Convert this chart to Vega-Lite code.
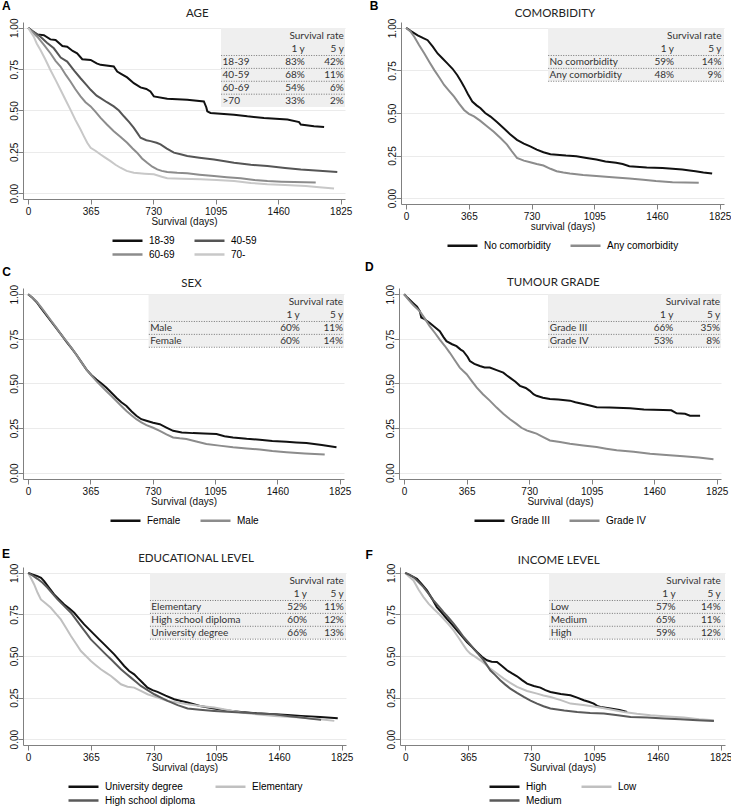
{
"$schema": "https://vega.github.io/schema/vega-lite/v6.json",
"padding": {"left": 2, "top": 0, "right": 0, "bottom": 0},
"background": "white",
"datasets": {
"A": [
{"group":"18-39","day":0,"surv":1},{"group":"18-39","day":30,"surv":0.975},{"group":"18-39","day":53,"surv":0.96},{"group":"18-39","day":92,"surv":0.955},{"group":"18-39","day":130,"surv":0.93},{"group":"18-39","day":160,"surv":0.926},{"group":"18-39","day":200,"surv":0.89},{"group":"18-39","day":228,"surv":0.886},{"group":"18-39","day":260,"surv":0.86},{"group":"18-39","day":286,"surv":0.846},{"group":"18-39","day":316,"surv":0.81},{"group":"18-39","day":365,"surv":0.806},{"group":"18-39","day":400,"surv":0.785},{"group":"18-39","day":423,"surv":0.776},{"group":"18-39","day":500,"surv":0.766},{"group":"18-39","day":520,"surv":0.735},{"group":"18-39","day":545,"surv":0.72},{"group":"18-39","day":578,"surv":0.7},{"group":"18-39","day":617,"surv":0.665},{"group":"18-39","day":656,"surv":0.64},{"group":"18-39","day":690,"surv":0.63},{"group":"18-39","day":714,"surv":0.615},{"group":"18-39","day":734,"surv":0.585},{"group":"18-39","day":812,"surv":0.571},{"group":"18-39","day":929,"surv":0.565},{"group":"18-39","day":1026,"surv":0.555},{"group":"18-39","day":1040,"surv":0.52},{"group":"18-39","day":1046,"surv":0.495},{"group":"18-39","day":1065,"surv":0.485},{"group":"18-39","day":1202,"surv":0.475},{"group":"18-39","day":1280,"surv":0.465},{"group":"18-39","day":1377,"surv":0.455},{"group":"18-39","day":1514,"surv":0.445},{"group":"18-39","day":1582,"surv":0.43},{"group":"18-39","day":1592,"surv":0.415},{"group":"18-39","day":1669,"surv":0.405},{"group":"18-39","day":1728,"surv":0.4},
{"group":"40-59","day":0,"surv":1},{"group":"40-59","day":40,"surv":0.97},{"group":"40-59","day":72,"surv":0.946},{"group":"40-59","day":110,"surv":0.91},{"group":"40-59","day":150,"surv":0.876},{"group":"40-59","day":190,"surv":0.82},{"group":"40-59","day":228,"surv":0.796},{"group":"40-59","day":270,"surv":0.74},{"group":"40-59","day":306,"surv":0.695},{"group":"40-59","day":340,"surv":0.655},{"group":"40-59","day":365,"surv":0.625},{"group":"40-59","day":400,"surv":0.59},{"group":"40-59","day":423,"surv":0.575},{"group":"40-59","day":460,"surv":0.55},{"group":"40-59","day":500,"surv":0.525},{"group":"40-59","day":530,"surv":0.5},{"group":"40-59","day":559,"surv":0.465},{"group":"40-59","day":590,"surv":0.43},{"group":"40-59","day":617,"surv":0.395},{"group":"40-59","day":640,"surv":0.36},{"group":"40-59","day":656,"surv":0.335},{"group":"40-59","day":690,"surv":0.32},{"group":"40-59","day":715,"surv":0.315},{"group":"40-59","day":750,"surv":0.305},{"group":"40-59","day":773,"surv":0.295},{"group":"40-59","day":810,"surv":0.27},{"group":"40-59","day":851,"surv":0.245},{"group":"40-59","day":890,"surv":0.235},{"group":"40-59","day":929,"surv":0.225},{"group":"40-59","day":1000,"surv":0.215},{"group":"40-59","day":1085,"surv":0.204},{"group":"40-59","day":1140,"surv":0.195},{"group":"40-59","day":1202,"surv":0.184},{"group":"40-59","day":1300,"surv":0.172},{"group":"40-59","day":1397,"surv":0.164},{"group":"40-59","day":1500,"surv":0.153},{"group":"40-59","day":1592,"surv":0.144},{"group":"40-59","day":1700,"surv":0.136},{"group":"40-59","day":1805,"surv":0.128},
{"group":"60-69","day":0,"surv":1},{"group":"60-69","day":25,"surv":0.975},{"group":"60-69","day":53,"surv":0.946},{"group":"60-69","day":90,"surv":0.9},{"group":"60-69","day":130,"surv":0.846},{"group":"60-69","day":160,"surv":0.8},{"group":"60-69","day":189,"surv":0.766},{"group":"60-69","day":220,"surv":0.715},{"group":"60-69","day":247,"surv":0.675},{"group":"60-69","day":275,"surv":0.63},{"group":"60-69","day":306,"surv":0.585},{"group":"60-69","day":335,"surv":0.55},{"group":"60-69","day":365,"surv":0.525},{"group":"60-69","day":395,"surv":0.49},{"group":"60-69","day":423,"surv":0.455},{"group":"60-69","day":460,"surv":0.415},{"group":"60-69","day":500,"surv":0.375},{"group":"60-69","day":540,"surv":0.34},{"group":"60-69","day":578,"surv":0.305},{"group":"60-69","day":610,"surv":0.27},{"group":"60-69","day":636,"surv":0.245},{"group":"60-69","day":665,"surv":0.21},{"group":"60-69","day":695,"surv":0.184},{"group":"60-69","day":725,"surv":0.16},{"group":"60-69","day":754,"surv":0.144},{"group":"60-69","day":780,"surv":0.135},{"group":"60-69","day":812,"surv":0.128},{"group":"60-69","day":870,"surv":0.123},{"group":"60-69","day":929,"surv":0.12},{"group":"60-69","day":1000,"surv":0.112},{"group":"60-69","day":1085,"surv":0.104},{"group":"60-69","day":1160,"surv":0.097},{"group":"60-69","day":1241,"surv":0.09},{"group":"60-69","day":1320,"surv":0.08},{"group":"60-69","day":1397,"surv":0.074},{"group":"60-69","day":1480,"surv":0.07},{"group":"60-69","day":1553,"surv":0.068},{"group":"60-69","day":1679,"surv":0.064},
{"group":"70-","day":0,"surv":1},{"group":"70-","day":15,"surv":0.975},{"group":"70-","day":33,"surv":0.946},{"group":"70-","day":50,"surv":0.905},{"group":"70-","day":72,"surv":0.866},{"group":"70-","day":100,"surv":0.81},{"group":"70-","day":130,"surv":0.745},{"group":"70-","day":160,"surv":0.685},{"group":"70-","day":189,"surv":0.625},{"group":"70-","day":218,"surv":0.565},{"group":"70-","day":247,"surv":0.505},{"group":"70-","day":275,"surv":0.445},{"group":"70-","day":306,"surv":0.385},{"group":"70-","day":325,"surv":0.345},{"group":"70-","day":345,"surv":0.305},{"group":"70-","day":365,"surv":0.275},{"group":"70-","day":395,"surv":0.255},{"group":"70-","day":423,"surv":0.234},{"group":"70-","day":450,"surv":0.215},{"group":"70-","day":481,"surv":0.194},{"group":"70-","day":510,"surv":0.172},{"group":"70-","day":539,"surv":0.154},{"group":"70-","day":575,"surv":0.135},{"group":"70-","day":617,"surv":0.124},{"group":"70-","day":680,"surv":0.118},{"group":"70-","day":734,"surv":0.114},{"group":"70-","day":780,"surv":0.1},{"group":"70-","day":812,"surv":0.09},{"group":"70-","day":900,"surv":0.087},{"group":"70-","day":1007,"surv":0.084},{"group":"70-","day":1100,"surv":0.08},{"group":"70-","day":1202,"surv":0.074},{"group":"70-","day":1300,"surv":0.062},{"group":"70-","day":1397,"surv":0.054},{"group":"70-","day":1500,"surv":0.05},{"group":"70-","day":1621,"surv":0.044},{"group":"70-","day":1700,"surv":0.036},{"group":"70-","day":1786,"surv":0.028}
],
"B": [
{"group":"No comorbidity","day":0,"surv":1},{"group":"No comorbidity","day":30,"surv":0.98},{"group":"No comorbidity","day":67,"surv":0.957},{"group":"No comorbidity","day":100,"surv":0.94},{"group":"No comorbidity","day":125,"surv":0.928},{"group":"No comorbidity","day":155,"surv":0.89},{"group":"No comorbidity","day":183,"surv":0.85},{"group":"No comorbidity","day":212,"surv":0.82},{"group":"No comorbidity","day":241,"surv":0.79},{"group":"No comorbidity","day":270,"surv":0.76},{"group":"No comorbidity","day":298,"surv":0.722},{"group":"No comorbidity","day":320,"surv":0.685},{"group":"No comorbidity","day":337,"surv":0.655},{"group":"No comorbidity","day":360,"surv":0.61},{"group":"No comorbidity","day":385,"surv":0.567},{"group":"No comorbidity","day":410,"surv":0.545},{"group":"No comorbidity","day":433,"surv":0.528},{"group":"No comorbidity","day":460,"surv":0.5},{"group":"No comorbidity","day":491,"surv":0.479},{"group":"No comorbidity","day":530,"surv":0.445},{"group":"No comorbidity","day":568,"surv":0.41},{"group":"No comorbidity","day":605,"surv":0.375},{"group":"No comorbidity","day":645,"surv":0.342},{"group":"No comorbidity","day":685,"surv":0.32},{"group":"No comorbidity","day":722,"surv":0.304},{"group":"No comorbidity","day":760,"surv":0.285},{"group":"No comorbidity","day":799,"surv":0.269},{"group":"No comorbidity","day":840,"surv":0.258},{"group":"No comorbidity","day":876,"surv":0.255},{"group":"No comorbidity","day":930,"surv":0.25},{"group":"No comorbidity","day":991,"surv":0.246},{"group":"No comorbidity","day":1050,"surv":0.236},{"group":"No comorbidity","day":1107,"surv":0.226},{"group":"No comorbidity","day":1160,"surv":0.215},{"group":"No comorbidity","day":1222,"surv":0.207},{"group":"No comorbidity","day":1260,"surv":0.2},{"group":"No comorbidity","day":1299,"surv":0.187},{"group":"No comorbidity","day":1400,"surv":0.18},{"group":"No comorbidity","day":1492,"surv":0.177},{"group":"No comorbidity","day":1550,"surv":0.172},{"group":"No comorbidity","day":1607,"surv":0.168},{"group":"No comorbidity","day":1650,"surv":0.162},{"group":"No comorbidity","day":1684,"surv":0.158},{"group":"No comorbidity","day":1730,"surv":0.15},{"group":"No comorbidity","day":1781,"surv":0.144},
{"group":"Any comorbidity","day":0,"surv":1},{"group":"Any comorbidity","day":25,"surv":0.98},{"group":"Any comorbidity","day":48,"surv":0.947},{"group":"Any comorbidity","day":75,"surv":0.9},{"group":"Any comorbidity","day":106,"surv":0.85},{"group":"Any comorbidity","day":135,"surv":0.8},{"group":"Any comorbidity","day":164,"surv":0.752},{"group":"Any comorbidity","day":192,"surv":0.71},{"group":"Any comorbidity","day":221,"surv":0.665},{"group":"Any comorbidity","day":250,"surv":0.63},{"group":"Any comorbidity","day":279,"surv":0.596},{"group":"Any comorbidity","day":308,"surv":0.555},{"group":"Any comorbidity","day":337,"surv":0.518},{"group":"Any comorbidity","day":365,"surv":0.495},{"group":"Any comorbidity","day":395,"surv":0.48},{"group":"Any comorbidity","day":430,"surv":0.455},{"group":"Any comorbidity","day":472,"surv":0.421},{"group":"Any comorbidity","day":510,"surv":0.39},{"group":"Any comorbidity","day":549,"surv":0.353},{"group":"Any comorbidity","day":587,"surv":0.314},{"group":"Any comorbidity","day":615,"surv":0.275},{"group":"Any comorbidity","day":645,"surv":0.236},{"group":"Any comorbidity","day":685,"surv":0.22},{"group":"Any comorbidity","day":722,"surv":0.21},{"group":"Any comorbidity","day":760,"surv":0.2},{"group":"Any comorbidity","day":799,"surv":0.191},{"group":"Any comorbidity","day":840,"surv":0.172},{"group":"Any comorbidity","day":876,"surv":0.158},{"group":"Any comorbidity","day":915,"surv":0.15},{"group":"Any comorbidity","day":953,"surv":0.144},{"group":"Any comorbidity","day":1030,"surv":0.135},{"group":"Any comorbidity","day":1107,"surv":0.129},{"group":"Any comorbidity","day":1200,"surv":0.122},{"group":"Any comorbidity","day":1299,"surv":0.115},{"group":"Any comorbidity","day":1380,"surv":0.108},{"group":"Any comorbidity","day":1453,"surv":0.1},{"group":"Any comorbidity","day":1550,"surv":0.093},{"group":"Any comorbidity","day":1703,"surv":0.09}
],
"C": [
{"group":"Female","day":0,"surv":1},{"group":"Female","day":25,"surv":0.98},{"group":"Female","day":49,"surv":0.957},{"group":"Female","day":78,"surv":0.92},{"group":"Female","day":107,"surv":0.883},{"group":"Female","day":136,"surv":0.846},{"group":"Female","day":166,"surv":0.809},{"group":"Female","day":195,"surv":0.772},{"group":"Female","day":224,"surv":0.735},{"group":"Female","day":254,"surv":0.698},{"group":"Female","day":283,"surv":0.661},{"group":"Female","day":312,"surv":0.62},{"group":"Female","day":342,"surv":0.578},{"group":"Female","day":370,"surv":0.548},{"group":"Female","day":400,"surv":0.522},{"group":"Female","day":430,"surv":0.5},{"group":"Female","day":459,"surv":0.476},{"group":"Female","day":488,"surv":0.448},{"group":"Female","day":517,"surv":0.42},{"group":"Female","day":546,"surv":0.395},{"group":"Female","day":576,"surv":0.374},{"group":"Female","day":605,"surv":0.345},{"group":"Female","day":634,"surv":0.319},{"group":"Female","day":663,"surv":0.3},{"group":"Female","day":693,"surv":0.291},{"group":"Female","day":732,"surv":0.28},{"group":"Female","day":771,"surv":0.272},{"group":"Female","day":810,"surv":0.253},{"group":"Female","day":849,"surv":0.235},{"group":"Female","day":900,"surv":0.226},{"group":"Female","day":966,"surv":0.222},{"group":"Female","day":1030,"surv":0.22},{"group":"Female","day":1103,"surv":0.217},{"group":"Female","day":1150,"surv":0.205},{"group":"Female","day":1200,"surv":0.198},{"group":"Female","day":1280,"surv":0.19},{"group":"Female","day":1357,"surv":0.185},{"group":"Female","day":1430,"surv":0.178},{"group":"Female","day":1513,"surv":0.174},{"group":"Female","day":1570,"surv":0.17},{"group":"Female","day":1630,"surv":0.167},{"group":"Female","day":1720,"surv":0.155},{"group":"Female","day":1806,"surv":0.143},
{"group":"Male","day":0,"surv":1},{"group":"Male","day":25,"surv":0.982},{"group":"Male","day":49,"surv":0.96},{"group":"Male","day":78,"surv":0.925},{"group":"Male","day":107,"surv":0.888},{"group":"Male","day":136,"surv":0.85},{"group":"Male","day":166,"surv":0.812},{"group":"Male","day":195,"surv":0.772},{"group":"Male","day":224,"surv":0.738},{"group":"Male","day":254,"surv":0.7},{"group":"Male","day":283,"surv":0.66},{"group":"Male","day":312,"surv":0.62},{"group":"Male","day":342,"surv":0.578},{"group":"Male","day":370,"surv":0.545},{"group":"Male","day":400,"surv":0.513},{"group":"Male","day":430,"surv":0.485},{"group":"Male","day":459,"surv":0.457},{"group":"Male","day":488,"surv":0.43},{"group":"Male","day":517,"surv":0.402},{"group":"Male","day":546,"surv":0.374},{"group":"Male","day":576,"surv":0.346},{"group":"Male","day":605,"surv":0.322},{"group":"Male","day":634,"surv":0.3},{"group":"Male","day":663,"surv":0.282},{"group":"Male","day":693,"surv":0.267},{"group":"Male","day":732,"surv":0.252},{"group":"Male","day":771,"surv":0.235},{"group":"Male","day":810,"surv":0.215},{"group":"Male","day":849,"surv":0.198},{"group":"Male","day":888,"surv":0.193},{"group":"Male","day":927,"surv":0.189},{"group":"Male","day":985,"surv":0.175},{"group":"Male","day":1044,"surv":0.161},{"group":"Male","day":1120,"surv":0.152},{"group":"Male","day":1200,"surv":0.143},{"group":"Male","day":1280,"surv":0.136},{"group":"Male","day":1357,"surv":0.13},{"group":"Male","day":1430,"surv":0.122},{"group":"Male","day":1513,"surv":0.115},{"group":"Male","day":1620,"surv":0.108},{"group":"Male","day":1737,"surv":0.102}
],
"D": [
{"group":"Grade III","day":0,"surv":1},{"group":"Grade III","day":20,"surv":0.98},{"group":"Grade III","day":53,"surv":0.95},{"group":"Grade III","day":75,"surv":0.93},{"group":"Grade III","day":92,"surv":0.904},{"group":"Grade III","day":100,"surv":0.87},{"group":"Grade III","day":120,"surv":0.86},{"group":"Grade III","day":150,"surv":0.839},{"group":"Grade III","day":180,"surv":0.815},{"group":"Grade III","day":208,"surv":0.793},{"group":"Grade III","day":230,"surv":0.76},{"group":"Grade III","day":247,"surv":0.737},{"group":"Grade III","day":280,"surv":0.72},{"group":"Grade III","day":306,"surv":0.709},{"group":"Grade III","day":330,"surv":0.69},{"group":"Grade III","day":345,"surv":0.681},{"group":"Grade III","day":370,"surv":0.65},{"group":"Grade III","day":384,"surv":0.626},{"group":"Grade III","day":410,"surv":0.61},{"group":"Grade III","day":442,"surv":0.598},{"group":"Grade III","day":470,"surv":0.59},{"group":"Grade III","day":500,"surv":0.589},{"group":"Grade III","day":540,"surv":0.575},{"group":"Grade III","day":579,"surv":0.561},{"group":"Grade III","day":600,"surv":0.545},{"group":"Grade III","day":617,"surv":0.533},{"group":"Grade III","day":650,"surv":0.51},{"group":"Grade III","day":676,"surv":0.487},{"group":"Grade III","day":710,"surv":0.475},{"group":"Grade III","day":734,"surv":0.459},{"group":"Grade III","day":755,"surv":0.44},{"group":"Grade III","day":773,"surv":0.431},{"group":"Grade III","day":810,"surv":0.42},{"group":"Grade III","day":851,"surv":0.413},{"group":"Grade III","day":900,"surv":0.41},{"group":"Grade III","day":968,"surv":0.404},{"group":"Grade III","day":1000,"surv":0.395},{"group":"Grade III","day":1046,"surv":0.385},{"group":"Grade III","day":1090,"surv":0.375},{"group":"Grade III","day":1124,"surv":0.367},{"group":"Grade III","day":1200,"surv":0.365},{"group":"Grade III","day":1319,"surv":0.361},{"group":"Grade III","day":1400,"surv":0.355},{"group":"Grade III","day":1513,"surv":0.352},{"group":"Grade III","day":1560,"surv":0.35},{"group":"Grade III","day":1591,"surv":0.333},{"group":"Grade III","day":1640,"surv":0.33},{"group":"Grade III","day":1669,"surv":0.32},{"group":"Grade III","day":1728,"surv":0.32},
{"group":"Grade IV","day":0,"surv":1},{"group":"Grade IV","day":25,"surv":0.97},{"group":"Grade IV","day":53,"surv":0.94},{"group":"Grade IV","day":92,"surv":0.904},{"group":"Grade IV","day":120,"surv":0.865},{"group":"Grade IV","day":150,"surv":0.82},{"group":"Grade IV","day":180,"surv":0.783},{"group":"Grade IV","day":208,"surv":0.746},{"group":"Grade IV","day":238,"surv":0.71},{"group":"Grade IV","day":267,"surv":0.672},{"group":"Grade IV","day":296,"surv":0.63},{"group":"Grade IV","day":325,"surv":0.589},{"group":"Grade IV","day":345,"surv":0.57},{"group":"Grade IV","day":365,"surv":0.552},{"group":"Grade IV","day":394,"surv":0.515},{"group":"Grade IV","day":423,"surv":0.478},{"group":"Grade IV","day":460,"surv":0.44},{"group":"Grade IV","day":500,"surv":0.404},{"group":"Grade IV","day":540,"surv":0.365},{"group":"Grade IV","day":579,"surv":0.33},{"group":"Grade IV","day":618,"surv":0.3},{"group":"Grade IV","day":656,"surv":0.274},{"group":"Grade IV","day":685,"surv":0.252},{"group":"Grade IV","day":715,"surv":0.237},{"group":"Grade IV","day":744,"surv":0.228},{"group":"Grade IV","day":773,"surv":0.219},{"group":"Grade IV","day":812,"surv":0.2},{"group":"Grade IV","day":851,"surv":0.181},{"group":"Grade IV","day":910,"surv":0.172},{"group":"Grade IV","day":968,"surv":0.163},{"group":"Grade IV","day":1046,"surv":0.153},{"group":"Grade IV","day":1124,"surv":0.144},{"group":"Grade IV","day":1180,"surv":0.135},{"group":"Grade IV","day":1241,"surv":0.126},{"group":"Grade IV","day":1340,"surv":0.117},{"group":"Grade IV","day":1436,"surv":0.107},{"group":"Grade IV","day":1530,"surv":0.1},{"group":"Grade IV","day":1630,"surv":0.093},{"group":"Grade IV","day":1720,"surv":0.085},{"group":"Grade IV","day":1806,"surv":0.076}
],
"E": [
{"group":"University degree","day":0,"surv":1},{"group":"University degree","day":25,"surv":0.99},{"group":"University degree","day":54,"surv":0.98},{"group":"University degree","day":75,"surv":0.97},{"group":"University degree","day":93,"surv":0.95},{"group":"University degree","day":122,"surv":0.91},{"group":"University degree","day":151,"surv":0.87},{"group":"University degree","day":180,"surv":0.84},{"group":"University degree","day":210,"surv":0.81},{"group":"University degree","day":240,"surv":0.785},{"group":"University degree","day":268,"surv":0.76},{"group":"University degree","day":297,"surv":0.725},{"group":"University degree","day":326,"surv":0.69},{"group":"University degree","day":355,"surv":0.66},{"group":"University degree","day":384,"surv":0.63},{"group":"University degree","day":413,"surv":0.6},{"group":"University degree","day":443,"surv":0.57},{"group":"University degree","day":472,"surv":0.54},{"group":"University degree","day":501,"surv":0.51},{"group":"University degree","day":530,"surv":0.475},{"group":"University degree","day":559,"surv":0.44},{"group":"University degree","day":588,"surv":0.41},{"group":"University degree","day":617,"surv":0.39},{"group":"University degree","day":636,"surv":0.37},{"group":"University degree","day":656,"surv":0.35},{"group":"University degree","day":675,"surv":0.33},{"group":"University degree","day":695,"surv":0.31},{"group":"University degree","day":724,"surv":0.295},{"group":"University degree","day":753,"surv":0.284},{"group":"University degree","day":800,"surv":0.262},{"group":"University degree","day":850,"surv":0.24},{"group":"University degree","day":890,"surv":0.23},{"group":"University degree","day":928,"surv":0.22},{"group":"University degree","day":1000,"surv":0.2},{"group":"University degree","day":1083,"surv":0.184},{"group":"University degree","day":1160,"surv":0.173},{"group":"University degree","day":1239,"surv":0.164},{"group":"University degree","day":1330,"surv":0.156},{"group":"University degree","day":1433,"surv":0.15},{"group":"University degree","day":1510,"surv":0.145},{"group":"University degree","day":1588,"surv":0.14},{"group":"University degree","day":1700,"surv":0.133},{"group":"University degree","day":1802,"surv":0.126},
{"group":"Elementary","day":0,"surv":1},{"group":"Elementary","day":15,"surv":0.97},{"group":"Elementary","day":35,"surv":0.93},{"group":"Elementary","day":55,"surv":0.88},{"group":"Elementary","day":74,"surv":0.84},{"group":"Elementary","day":103,"surv":0.815},{"group":"Elementary","day":132,"surv":0.79},{"group":"Elementary","day":161,"surv":0.755},{"group":"Elementary","day":190,"surv":0.72},{"group":"Elementary","day":220,"surv":0.67},{"group":"Elementary","day":249,"surv":0.62},{"group":"Elementary","day":278,"surv":0.575},{"group":"Elementary","day":307,"surv":0.53},{"group":"Elementary","day":336,"surv":0.5},{"group":"Elementary","day":365,"surv":0.47},{"group":"Elementary","day":394,"surv":0.445},{"group":"Elementary","day":423,"surv":0.42},{"group":"Elementary","day":452,"surv":0.4},{"group":"Elementary","day":482,"surv":0.38},{"group":"Elementary","day":511,"surv":0.355},{"group":"Elementary","day":540,"surv":0.33},{"group":"Elementary","day":578,"surv":0.315},{"group":"Elementary","day":617,"surv":0.31},{"group":"Elementary","day":656,"surv":0.29},{"group":"Elementary","day":695,"surv":0.27},{"group":"Elementary","day":753,"surv":0.25},{"group":"Elementary","day":812,"surv":0.23},{"group":"Elementary","day":870,"surv":0.22},{"group":"Elementary","day":928,"surv":0.21},{"group":"Elementary","day":1000,"surv":0.2},{"group":"Elementary","day":1083,"surv":0.19},{"group":"Elementary","day":1160,"surv":0.175},{"group":"Elementary","day":1239,"surv":0.16},{"group":"Elementary","day":1330,"surv":0.15},{"group":"Elementary","day":1433,"surv":0.14},{"group":"Elementary","day":1510,"surv":0.135},{"group":"Elementary","day":1588,"surv":0.13},{"group":"Elementary","day":1700,"surv":0.12},{"group":"Elementary","day":1782,"surv":0.11},
{"group":"High school diploma","day":0,"surv":1},{"group":"High school diploma","day":25,"surv":0.985},{"group":"High school diploma","day":54,"surv":0.964},{"group":"High school diploma","day":84,"surv":0.94},{"group":"High school diploma","day":113,"surv":0.91},{"group":"High school diploma","day":142,"surv":0.875},{"group":"High school diploma","day":171,"surv":0.84},{"group":"High school diploma","day":210,"surv":0.8},{"group":"High school diploma","day":249,"surv":0.76},{"group":"High school diploma","day":278,"surv":0.72},{"group":"High school diploma","day":307,"surv":0.68},{"group":"High school diploma","day":336,"surv":0.64},{"group":"High school diploma","day":365,"surv":0.6},{"group":"High school diploma","day":394,"surv":0.57},{"group":"High school diploma","day":423,"surv":0.54},{"group":"High school diploma","day":452,"surv":0.51},{"group":"High school diploma","day":482,"surv":0.48},{"group":"High school diploma","day":511,"surv":0.45},{"group":"High school diploma","day":540,"surv":0.42},{"group":"High school diploma","day":569,"surv":0.395},{"group":"High school diploma","day":598,"surv":0.37},{"group":"High school diploma","day":627,"surv":0.345},{"group":"High school diploma","day":656,"surv":0.32},{"group":"High school diploma","day":695,"surv":0.295},{"group":"High school diploma","day":734,"surv":0.27},{"group":"High school diploma","day":773,"surv":0.25},{"group":"High school diploma","day":812,"surv":0.23},{"group":"High school diploma","day":870,"surv":0.205},{"group":"High school diploma","day":928,"surv":0.184},{"group":"High school diploma","day":1000,"surv":0.177},{"group":"High school diploma","day":1083,"surv":0.17},{"group":"High school diploma","day":1160,"surv":0.165},{"group":"High school diploma","day":1239,"surv":0.16},{"group":"High school diploma","day":1330,"surv":0.155},{"group":"High school diploma","day":1433,"surv":0.15},{"group":"High school diploma","day":1510,"surv":0.14},{"group":"High school diploma","day":1588,"surv":0.13},{"group":"High school diploma","day":1650,"surv":0.122},{"group":"High school diploma","day":1705,"surv":0.116}
],
"F": [
{"group":"High","day":0,"surv":1},{"group":"High","day":30,"surv":0.985},{"group":"High","day":68,"surv":0.964},{"group":"High","day":97,"surv":0.93},{"group":"High","day":126,"surv":0.894},{"group":"High","day":155,"surv":0.845},{"group":"High","day":183,"surv":0.794},{"group":"High","day":212,"surv":0.76},{"group":"High","day":241,"surv":0.724},{"group":"High","day":270,"surv":0.69},{"group":"High","day":299,"surv":0.654},{"group":"High","day":328,"surv":0.62},{"group":"High","day":357,"surv":0.584},{"group":"High","day":386,"surv":0.555},{"group":"High","day":415,"surv":0.524},{"group":"High","day":444,"surv":0.495},{"group":"High","day":473,"surv":0.474},{"group":"High","day":500,"surv":0.466},{"group":"High","day":531,"surv":0.464},{"group":"High","day":560,"surv":0.44},{"group":"High","day":589,"surv":0.414},{"group":"High","day":618,"surv":0.395},{"group":"High","day":647,"surv":0.378},{"group":"High","day":676,"surv":0.355},{"group":"High","day":705,"surv":0.334},{"group":"High","day":744,"surv":0.32},{"group":"High","day":782,"surv":0.31},{"group":"High","day":811,"surv":0.295},{"group":"High","day":840,"surv":0.284},{"group":"High","day":900,"surv":0.272},{"group":"High","day":956,"surv":0.264},{"group":"High","day":995,"surv":0.25},{"group":"High","day":1033,"surv":0.234},{"group":"High","day":1062,"surv":0.225},{"group":"High","day":1091,"surv":0.214},{"group":"High","day":1110,"surv":0.2},{"group":"High","day":1130,"surv":0.194},{"group":"High","day":1188,"surv":0.184},{"group":"High","day":1240,"surv":0.175},{"group":"High","day":1284,"surv":0.164},
{"group":"Low","day":0,"surv":1},{"group":"Low","day":20,"surv":0.98},{"group":"Low","day":48,"surv":0.954},{"group":"Low","day":77,"surv":0.9},{"group":"Low","day":106,"surv":0.854},{"group":"Low","day":135,"surv":0.815},{"group":"Low","day":164,"surv":0.784},{"group":"Low","day":193,"surv":0.755},{"group":"Low","day":222,"surv":0.724},{"group":"Low","day":251,"surv":0.69},{"group":"Low","day":280,"surv":0.654},{"group":"Low","day":309,"surv":0.61},{"group":"Low","day":338,"surv":0.564},{"group":"Low","day":357,"surv":0.535},{"group":"Low","day":377,"surv":0.514},{"group":"Low","day":406,"surv":0.495},{"group":"Low","day":435,"surv":0.474},{"group":"Low","day":464,"surv":0.45},{"group":"Low","day":492,"surv":0.424},{"group":"Low","day":531,"surv":0.395},{"group":"Low","day":570,"surv":0.364},{"group":"Low","day":608,"surv":0.338},{"group":"Low","day":647,"surv":0.314},{"group":"Low","day":705,"surv":0.29},{"group":"Low","day":763,"surv":0.274},{"group":"Low","day":800,"surv":0.263},{"group":"Low","day":840,"surv":0.254},{"group":"Low","day":900,"surv":0.235},{"group":"Low","day":956,"surv":0.214},{"group":"Low","day":1030,"surv":0.205},{"group":"Low","day":1110,"surv":0.194},{"group":"Low","day":1190,"surv":0.178},{"group":"Low","day":1265,"surv":0.164},{"group":"Low","day":1340,"surv":0.153},{"group":"Low","day":1419,"surv":0.144},{"group":"Low","day":1520,"surv":0.137},{"group":"Low","day":1613,"surv":0.13},{"group":"Low","day":1700,"surv":0.12},{"group":"Low","day":1786,"surv":0.114},
{"group":"Medium","day":0,"surv":1},{"group":"Medium","day":20,"surv":0.99},{"group":"Medium","day":48,"surv":0.974},{"group":"Medium","day":77,"surv":0.945},{"group":"Medium","day":106,"surv":0.914},{"group":"Medium","day":135,"surv":0.875},{"group":"Medium","day":164,"surv":0.834},{"group":"Medium","day":193,"surv":0.8},{"group":"Medium","day":222,"surv":0.764},{"group":"Medium","day":251,"surv":0.73},{"group":"Medium","day":280,"surv":0.694},{"group":"Medium","day":309,"surv":0.655},{"group":"Medium","day":338,"surv":0.614},{"group":"Medium","day":367,"surv":0.58},{"group":"Medium","day":396,"surv":0.544},{"group":"Medium","day":425,"surv":0.51},{"group":"Medium","day":454,"surv":0.474},{"group":"Medium","day":473,"surv":0.445},{"group":"Medium","day":492,"surv":0.414},{"group":"Medium","day":521,"surv":0.385},{"group":"Medium","day":550,"surv":0.354},{"group":"Medium","day":579,"surv":0.328},{"group":"Medium","day":608,"surv":0.304},{"group":"Medium","day":647,"surv":0.278},{"group":"Medium","day":686,"surv":0.254},{"group":"Medium","day":725,"surv":0.232},{"group":"Medium","day":763,"surv":0.214},{"group":"Medium","day":800,"surv":0.198},{"group":"Medium","day":840,"surv":0.184},{"group":"Medium","day":920,"surv":0.172},{"group":"Medium","day":995,"surv":0.164},{"group":"Medium","day":1070,"surv":0.158},{"group":"Medium","day":1149,"surv":0.154},{"group":"Medium","day":1230,"surv":0.144},{"group":"Medium","day":1304,"surv":0.134},{"group":"Medium","day":1400,"surv":0.13},{"group":"Medium","day":1497,"surv":0.124},{"group":"Medium","day":1590,"surv":0.12},{"group":"Medium","day":1690,"surv":0.114},{"group":"Medium","day":1786,"surv":0.11}
],
"tA": [{"row":0,"label":"","c1":"","c5":"Survival rate"},{"row":1,"label":"","c1":"1 y","c5":"5 y"},{"row":2,"label":"18-39","c1":"83%","c5":"42%"},{"row":3,"label":"40-59","c1":"68%","c5":"11%"},{"row":4,"label":"60-69","c1":"54%","c5":"6%"},{"row":5,"label":">70","c1":"33%","c5":"2%"}],
"tB": [{"row":0,"label":"","c1":"","c5":"Survival rate"},{"row":1,"label":"","c1":"1 y","c5":"5 y"},{"row":2,"label":"No comorbidity","c1":"59%","c5":"14%"},{"row":3,"label":"Any comorbidity","c1":"48%","c5":"9%"}],
"tC": [{"row":0,"label":"","c1":"","c5":"Survival rate"},{"row":1,"label":"","c1":"1 y","c5":"5 y"},{"row":2,"label":"Male","c1":"60%","c5":"11%"},{"row":3,"label":"Female","c1":"60%","c5":"14%"}],
"tD": [{"row":0,"label":"","c1":"","c5":"Survival rate"},{"row":1,"label":"","c1":"1 y","c5":"5 y"},{"row":2,"label":"Grade III","c1":"66%","c5":"35%"},{"row":3,"label":"Grade IV","c1":"53%","c5":"8%"}],
"tE": [{"row":0,"label":"","c1":"","c5":"Survival rate"},{"row":1,"label":"","c1":"1 y","c5":"5 y"},{"row":2,"label":"Elementary","c1":"52%","c5":"11%"},{"row":3,"label":"High school diploma","c1":"60%","c5":"12%"},{"row":4,"label":"University degree","c1":"66%","c5":"13%"}],
"tF": [{"row":0,"label":"","c1":"","c5":"Survival rate"},{"row":1,"label":"","c1":"1 y","c5":"5 y"},{"row":2,"label":"Low","c1":"57%","c5":"14%"},{"row":3,"label":"Medium","c1":"65%","c5":"11%"},{"row":4,"label":"High","c1":"59%","c5":"12%"}]
},
"vconcat": [
{"hconcat": [
{"width": 322, "height": 177, "resolve": {"scale": {"y": "independent"}},
 "layer": [
  {"layer": [
   {"data": {"name": "A"}, "mark": {"type": "line", "strokeWidth": 2},
    "encoding": {
     "x": {"field": "day", "type": "quantitative", "scale": {"domain": [-30, 1850], "nice": false, "zero": false}, "axis": {"values": [0,365,730,1095,1460,1825], "format": "d", "title": "Survival (days)"}},
     "y": {"field": "surv", "type": "quantitative", "scale": {"domain": [-0.035, 1.035], "nice": false, "zero": false}, "axis": {"values": [0,0.25,0.5,0.75,1], "format": ".2f", "title": null}},
     "color": {"field": "group", "type": "nominal", "scale": {"domain": ["18-39","40-59","60-69","70-"], "range": ["#111111","#555555","#8c8c8c","#c8c8c8"]}}}},
   {"data": {"values": [{}]}, "mark": {"type": "text", "font": "Liberation Sans", "fontWeight": "bold", "fontSize": 12, "align": "left", "baseline": "alphabetic", "color": "#000"},
    "encoding": {"x": {"datum": -152}, "y": {"datum": 1.105}, "text": {"value": "A"}}},
   {"data": {"values": [{}]}, "mark": {"type": "text", "font": "Lato", "fontSize": 11.5, "align": "center", "baseline": "alphabetic", "color": "#222"},
    "encoding": {"x": {"datum": 988}, "y": {"datum": 1.068}, "text": {"value": "AGE"}}}
  ]},
  {"data": {"name": "tA"}, "layer": [
   {"mark": {"type": "rect", "color": "#efefef"}, "encoding": {"x": {"datum": 1127}, "x2": {"datum": 1850}, "y": {"datum": -0.62, "scale": {"domain": [-1.1, 12.62], "reverse": true, "nice": false, "zero": false}, "axis": null}, "y2": {"datum": 5.47}}},
   {"transform": [{"filter": "datum.row >= 1 && datum.row < 5"}], "mark": {"type": "rule", "strokeDash": [1, 1.5], "color": "#555555", "strokeWidth": 0.8, "yOffset": 6.4}, "encoding": {"x": {"datum": 1127}, "x2": {"datum": 1850}, "y": {"field": "row", "type": "quantitative", "axis": null}}},
   {"mark": {"type": "text", "font": "Lato", "fontSize": 10, "align": "left", "baseline": "middle", "color": "#333"}, "encoding": {"x": {"datum": 1135}, "y": {"field": "row", "type": "quantitative", "axis": null}, "text": {"field": "label"}}},
   {"mark": {"type": "text", "font": "Lato", "fontSize": 10, "align": "right", "baseline": "middle", "color": "#333"}, "encoding": {"x": {"datum": 1615}, "y": {"field": "row", "type": "quantitative", "axis": null}, "text": {"field": "c1"}}},
   {"mark": {"type": "text", "font": "Lato", "fontSize": 10, "align": "right", "baseline": "middle", "color": "#333"}, "encoding": {"x": {"datum": 1843}, "y": {"field": "row", "type": "quantitative", "axis": null}, "text": {"field": "c5"}}}
  ]}
 ]},
{"width": 323, "height": 182, "resolve": {"scale": {"y": "independent"}},
 "layer": [
  {"layer": [
   {"data": {"name": "B"}, "mark": {"type": "line", "strokeWidth": 2},
    "encoding": {
     "x": {"field": "day", "type": "quantitative", "scale": {"domain": [-30, 1850], "nice": false, "zero": false}, "axis": {"values": [0,365,730,1095,1460,1825], "format": "d", "title": "survival (days)"}},
     "y": {"field": "surv", "type": "quantitative", "scale": {"domain": [-0.035, 1.035], "nice": false, "zero": false}, "axis": {"values": [0,0.25,0.5,0.75,1], "format": ".2f", "title": null}},
     "color": {"field": "group", "type": "nominal", "scale": {"domain": ["No comorbidity","Any comorbidity"], "range": ["#111111","#8c8c8c"]}}}},
   {"data": {"values": [{}]}, "mark": {"type": "text", "font": "Liberation Sans", "fontWeight": "bold", "fontSize": 12, "align": "left", "baseline": "alphabetic", "color": "#000"},
    "encoding": {"x": {"datum": -212}, "y": {"datum": 1.105}, "text": {"value": "B"}}},
   {"data": {"values": [{}]}, "mark": {"type": "text", "font": "Lato", "fontSize": 11.5, "align": "center", "baseline": "alphabetic", "color": "#222"},
    "encoding": {"x": {"datum": 866}, "y": {"datum": 1.066}, "text": {"value": "COMORBIDITY"}}}
  ]},
  {"data": {"name": "tB"}, "layer": [
   {"mark": {"type": "rect", "color": "#efefef"}, "encoding": {"x": {"datum": 827}, "x2": {"datum": 1850}, "y": {"datum": -0.62, "scale": {"domain": [-1.1, 13.01], "reverse": true, "nice": false, "zero": false}, "axis": null}, "y2": {"datum": 3.47}}},
   {"transform": [{"filter": "datum.row >= 1"}], "mark": {"type": "rule", "strokeDash": [1, 1.5], "color": "#555555", "strokeWidth": 0.8, "yOffset": 6.4}, "encoding": {"x": {"datum": 827}, "x2": {"datum": 1850}, "y": {"field": "row", "type": "quantitative", "axis": null}}},
   {"mark": {"type": "text", "font": "Lato", "fontSize": 10, "align": "left", "baseline": "middle", "color": "#333"}, "encoding": {"x": {"datum": 835}, "y": {"field": "row", "type": "quantitative", "axis": null}, "text": {"field": "label"}}},
   {"mark": {"type": "text", "font": "Lato", "fontSize": 10, "align": "right", "baseline": "middle", "color": "#333"}, "encoding": {"x": {"datum": 1559}, "y": {"field": "row", "type": "quantitative", "axis": null}, "text": {"field": "c1"}}},
   {"mark": {"type": "text", "font": "Lato", "fontSize": 10, "align": "right", "baseline": "middle", "color": "#333"}, "encoding": {"x": {"datum": 1835}, "y": {"field": "row", "type": "quantitative", "axis": null}, "text": {"field": "c5"}}}
  ]}
 ]}
], "spacing": 17, "resolve": {"scale": {"color": "independent"}, "legend": {"color": "independent"}}},
{"vconcat": [
{"hconcat": [
{"width": 321, "height": 191, "resolve": {"scale": {"y": "independent"}},
 "layer": [
  {"layer": [
   {"data": {"name": "C"}, "mark": {"type": "line", "strokeWidth": 2},
    "encoding": {
     "x": {"field": "day", "type": "quantitative", "scale": {"domain": [-30, 1850], "nice": false, "zero": false}, "axis": {"values": [0,365,730,1095,1460,1825], "format": "d", "title": "Survival (days)"}},
     "y": {"field": "surv", "type": "quantitative", "scale": {"domain": [-0.035, 1.035], "nice": false, "zero": false}, "axis": {"values": [0,0.25,0.5,0.75,1], "format": ".2f", "title": null}},
     "color": {"field": "group", "type": "nominal", "scale": {"domain": ["Female","Male"], "range": ["#111111","#8c8c8c"]}}}},
   {"data": {"values": [{}]}, "mark": {"type": "text", "font": "Liberation Sans", "fontWeight": "bold", "fontSize": 12, "align": "left", "baseline": "alphabetic", "color": "#000"},
    "encoding": {"x": {"datum": -152}, "y": {"datum": 1.105}, "text": {"value": "C"}}},
   {"data": {"values": [{}]}, "mark": {"type": "text", "font": "Lato", "fontSize": 11.5, "align": "center", "baseline": "alphabetic", "color": "#222"},
    "encoding": {"x": {"datum": 957}, "y": {"datum": 1.039}, "text": {"value": "SEX"}}}
  ]},
  {"data": {"name": "tC"}, "layer": [
   {"mark": {"type": "rect", "color": "#efefef"}, "encoding": {"x": {"datum": 707}, "x2": {"datum": 1850}, "y": {"datum": -0.58, "scale": {"domain": [-1.1, 13.71], "reverse": true, "nice": false, "zero": false}, "axis": null}, "y2": {"datum": 3.47}}},
   {"transform": [{"filter": "datum.row >= 1"}], "mark": {"type": "rule", "strokeDash": [1, 1.5], "color": "#555555", "strokeWidth": 0.8, "yOffset": 6.4}, "encoding": {"x": {"datum": 707}, "x2": {"datum": 1850}, "y": {"field": "row", "type": "quantitative", "axis": null}}},
   {"mark": {"type": "text", "font": "Lato", "fontSize": 10, "align": "left", "baseline": "middle", "color": "#333"}, "encoding": {"x": {"datum": 715}, "y": {"field": "row", "type": "quantitative", "axis": null}, "text": {"field": "label"}}},
   {"mark": {"type": "text", "font": "Lato", "fontSize": 10, "align": "right", "baseline": "middle", "color": "#333"}, "encoding": {"x": {"datum": 1591}, "y": {"field": "row", "type": "quantitative", "axis": null}, "text": {"field": "c1"}}},
   {"mark": {"type": "text", "font": "Lato", "fontSize": 10, "align": "right", "baseline": "middle", "color": "#333"}, "encoding": {"x": {"datum": 1845}, "y": {"field": "row", "type": "quantitative", "axis": null}, "text": {"field": "c5"}}}
  ]}
 ]},
{"width": 322, "height": 191, "resolve": {"scale": {"y": "independent"}},
 "layer": [
  {"layer": [
   {"data": {"name": "D"}, "mark": {"type": "line", "strokeWidth": 2},
    "encoding": {
     "x": {"field": "day", "type": "quantitative", "scale": {"domain": [-30, 1850], "nice": false, "zero": false}, "axis": {"values": [0,365,730,1095,1460,1825], "format": "d", "title": "Survival (days)"}},
     "y": {"field": "surv", "type": "quantitative", "scale": {"domain": [-0.035, 1.035], "nice": false, "zero": false}, "axis": {"values": [0,0.25,0.5,0.75,1], "format": ".2f", "title": null}},
     "color": {"field": "group", "type": "nominal", "scale": {"domain": ["Grade III","Grade IV"], "range": ["#111111","#8c8c8c"]}}}},
   {"data": {"values": [{}]}, "mark": {"type": "text", "font": "Liberation Sans", "fontWeight": "bold", "fontSize": 12, "align": "left", "baseline": "alphabetic", "color": "#000"},
    "encoding": {"x": {"datum": -228}, "y": {"datum": 1.128}, "text": {"value": "D"}}},
   {"data": {"values": [{}]}, "mark": {"type": "text", "font": "Lato", "fontSize": 11.5, "align": "center", "baseline": "alphabetic", "color": "#222"},
    "encoding": {"x": {"datum": 871}, "y": {"datum": 1.044}, "text": {"value": "TUMOUR GRADE"}}}
  ]},
  {"data": {"name": "tD"}, "layer": [
   {"mark": {"type": "rect", "color": "#efefef"}, "encoding": {"x": {"datum": 842}, "x2": {"datum": 1850}, "y": {"datum": -0.58, "scale": {"domain": [-1.1, 13.71], "reverse": true, "nice": false, "zero": false}, "axis": null}, "y2": {"datum": 3.47}}},
   {"transform": [{"filter": "datum.row >= 1"}], "mark": {"type": "rule", "strokeDash": [1, 1.5], "color": "#555555", "strokeWidth": 0.8, "yOffset": 6.4}, "encoding": {"x": {"datum": 842}, "x2": {"datum": 1850}, "y": {"field": "row", "type": "quantitative", "axis": null}}},
   {"mark": {"type": "text", "font": "Lato", "fontSize": 10, "align": "left", "baseline": "middle", "color": "#333"}, "encoding": {"x": {"datum": 850}, "y": {"field": "row", "type": "quantitative", "axis": null}, "text": {"field": "label"}}},
   {"mark": {"type": "text", "font": "Lato", "fontSize": 10, "align": "right", "baseline": "middle", "color": "#333"}, "encoding": {"x": {"datum": 1572}, "y": {"field": "row", "type": "quantitative", "axis": null}, "text": {"field": "c1"}}},
   {"mark": {"type": "text", "font": "Lato", "fontSize": 10, "align": "right", "baseline": "middle", "color": "#333"}, "encoding": {"x": {"datum": 1845}, "y": {"field": "row", "type": "quantitative", "axis": null}, "text": {"field": "c5"}}}
  ]}
 ]}
], "spacing": 14, "resolve": {"scale": {"color": "independent"}, "legend": {"color": "independent"}}},
{"hconcat": [
{"width": 323, "height": 178, "resolve": {"scale": {"y": "independent"}},
 "layer": [
  {"layer": [
   {"data": {"name": "E"}, "mark": {"type": "line", "strokeWidth": 2},
    "encoding": {
     "x": {"field": "day", "type": "quantitative", "scale": {"domain": [-30, 1850], "nice": false, "zero": false}, "axis": {"values": [0,365,730,1095,1460,1825], "format": "d", "title": "Survival (days)"}},
     "y": {"field": "surv", "type": "quantitative", "scale": {"domain": [-0.035, 1.035], "nice": false, "zero": false}, "axis": {"values": [0,0.25,0.5,0.75,1], "format": ".2f", "title": null}},
     "color": {"field": "group", "type": "nominal", "scale": {"domain": ["University degree","Elementary","High school diploma"], "range": ["#111111","#c0c0c0","#5a5a5a"]}}}},
   {"data": {"values": [{}]}, "mark": {"type": "text", "font": "Liberation Sans", "fontWeight": "bold", "fontSize": 12, "align": "left", "baseline": "alphabetic", "color": "#000"},
    "encoding": {"x": {"datum": -152}, "y": {"datum": 1.09}, "text": {"value": "E"}}},
   {"data": {"values": [{}]}, "mark": {"type": "text", "font": "Lato", "fontSize": 11.5, "align": "center", "baseline": "alphabetic", "color": "#222"},
    "encoding": {"x": {"datum": 977}, "y": {"datum": 1.066}, "text": {"value": "EDUCATIONAL LEVEL"}}}
  ]},
  {"data": {"name": "tE"}, "layer": [
   {"mark": {"type": "rect", "color": "#efefef"}, "encoding": {"x": {"datum": 709}, "x2": {"datum": 1850}, "y": {"datum": -0.62, "scale": {"domain": [-1.1, 12.7], "reverse": true, "nice": false, "zero": false}, "axis": null}, "y2": {"datum": 4.47}}},
   {"transform": [{"filter": "datum.row >= 1"}], "mark": {"type": "rule", "strokeDash": [1, 1.5], "color": "#555555", "strokeWidth": 0.8, "yOffset": 6.4}, "encoding": {"x": {"datum": 709}, "x2": {"datum": 1850}, "y": {"field": "row", "type": "quantitative", "axis": null}}},
   {"mark": {"type": "text", "font": "Lato", "fontSize": 10, "align": "left", "baseline": "middle", "color": "#333"}, "encoding": {"x": {"datum": 717}, "y": {"field": "row", "type": "quantitative", "axis": null}, "text": {"field": "label"}}},
   {"mark": {"type": "text", "font": "Lato", "fontSize": 10, "align": "right", "baseline": "middle", "color": "#333"}, "encoding": {"x": {"datum": 1623}, "y": {"field": "row", "type": "quantitative", "axis": null}, "text": {"field": "c1"}}},
   {"mark": {"type": "text", "font": "Lato", "fontSize": 10, "align": "right", "baseline": "middle", "color": "#333"}, "encoding": {"x": {"datum": 1837}, "y": {"field": "row", "type": "quantitative", "axis": null}, "text": {"field": "c5"}}}
  ]}
 ]},
{"width": 325, "height": 178, "resolve": {"scale": {"y": "independent"}},
 "layer": [
  {"layer": [
   {"data": {"name": "F"}, "mark": {"type": "line", "strokeWidth": 2},
    "encoding": {
     "x": {"field": "day", "type": "quantitative", "scale": {"domain": [-30, 1850], "nice": false, "zero": false}, "axis": {"values": [0,365,730,1095,1460,1825], "format": "d", "title": "Survival (days)"}},
     "y": {"field": "surv", "type": "quantitative", "scale": {"domain": [-0.035, 1.035], "nice": false, "zero": false}, "axis": {"values": [0,0.25,0.5,0.75,1], "format": ".2f", "title": null}},
     "color": {"field": "group", "type": "nominal", "scale": {"domain": ["High","Low","Medium"], "range": ["#111111","#c0c0c0","#5a5a5a"]}}}},
   {"data": {"values": [{}]}, "mark": {"type": "text", "font": "Liberation Sans", "fontWeight": "bold", "fontSize": 12, "align": "left", "baseline": "alphabetic", "color": "#000"},
    "encoding": {"x": {"datum": -230}, "y": {"datum": 1.084}, "text": {"value": "F"}}},
   {"data": {"values": [{}]}, "mark": {"type": "text", "font": "Lato", "fontSize": 11.5, "align": "center", "baseline": "alphabetic", "color": "#222"},
    "encoding": {"x": {"datum": 888}, "y": {"datum": 1.056}, "text": {"value": "INCOME LEVEL"}}}
  ]},
  {"data": {"name": "tF"}, "layer": [
   {"mark": {"type": "rect", "color": "#efefef"}, "encoding": {"x": {"datum": 834}, "x2": {"datum": 1850}, "y": {"datum": -0.62, "scale": {"domain": [-1.1, 12.7], "reverse": true, "nice": false, "zero": false}, "axis": null}, "y2": {"datum": 4.47}}},
   {"transform": [{"filter": "datum.row >= 1"}], "mark": {"type": "rule", "strokeDash": [1, 1.5], "color": "#555555", "strokeWidth": 0.8, "yOffset": 6.4}, "encoding": {"x": {"datum": 834}, "x2": {"datum": 1850}, "y": {"field": "row", "type": "quantitative", "axis": null}}},
   {"mark": {"type": "text", "font": "Lato", "fontSize": 10, "align": "left", "baseline": "middle", "color": "#333"}, "encoding": {"x": {"datum": 842}, "y": {"field": "row", "type": "quantitative", "axis": null}, "text": {"field": "label"}}},
   {"mark": {"type": "text", "font": "Lato", "fontSize": 10, "align": "right", "baseline": "middle", "color": "#333"}, "encoding": {"x": {"datum": 1564}, "y": {"field": "row", "type": "quantitative", "axis": null}, "text": {"field": "c1"}}},
   {"mark": {"type": "text", "font": "Lato", "fontSize": 10, "align": "right", "baseline": "middle", "color": "#333"}, "encoding": {"x": {"datum": 1825}, "y": {"field": "row", "type": "quantitative", "axis": null}, "text": {"field": "c5"}}}
  ]}
 ]}
], "spacing": 12, "resolve": {"scale": {"color": "independent"}, "legend": {"color": "independent"}}}
], "spacing": 21, "resolve": {"scale": {"color": "independent"}, "legend": {"color": "independent"}}}
],
"spacing": 1,
"resolve": {"scale": {"color": "independent"}, "legend": {"color": "independent"}},
"config": {
 "view": {"stroke": null},
 "axis": {"domainColor": "#808080", "tickColor": "#808080", "tickSize": 5, "labelFont": "Liberation Sans Narrow, Liberation Sans, sans-serif", "labelFontSize": 10, "labelColor": "#111", "titleFont": "Liberation Sans", "titleFontSize": 10, "titleFontWeight": "normal", "titleColor": "#111"},
 "axisX": {"grid": false, "labelPadding": 2, "titlePadding": 0, "labelFlush": false, "labelOverlap": false},
 "axisY": {"grid": true, "gridColor": "#ebebeb", "labelAngle": -90, "labelAlign": "center", "labelBaseline": "alphabetic", "labelPadding": 1},
 "legend": {"title": null, "orient": "bottom", "direction": "horizontal", "columns": 2, "symbolType": "M-1,0H5", "symbolSize": 100, "symbolStrokeWidth": 2.5, "labelFont": "Liberation Sans", "labelFontSize": 10, "labelColor": "#000", "columnPadding": 14, "rowPadding": 2, "labelOffset": 25, "offset": 8, "layout": {"bottom": {"anchor": "middle"}}}
}
}
